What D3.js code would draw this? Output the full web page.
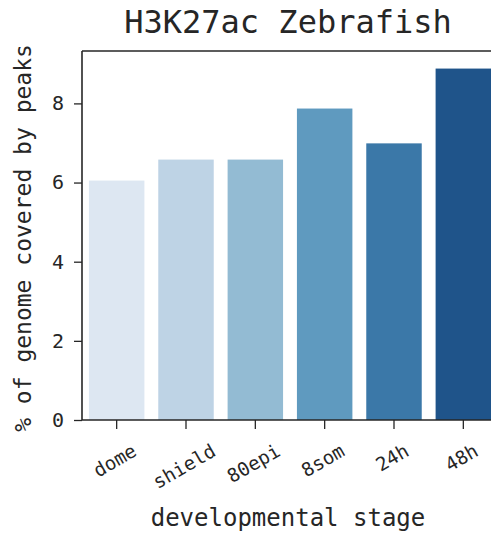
<!DOCTYPE html>
<html>
<head>
<meta charset="utf-8">
<script src="https://cdn.jsdelivr.net/npm/d3@7"></script>
<style>
  html, body { margin: 0; padding: 0; background: #fff; }
  svg { display: block; }
  text { font-family: "DejaVu Sans Mono", monospace; fill: #262626; }
</style>
</head>
<body>
<svg id="chart" width="491" height="537"></svg>
<script>
// H3K27ac peak coverage per developmental stage
const stages = ["dome", "shield", "80epi", "8som", "24h", "48h"];
const coverage = [6.05, 6.58, 6.58, 7.87, 6.99, 8.88];
const barColors = ["#dde7f2", "#bed3e5", "#93bbd3", "#5f9abf", "#3b78a8", "#1f548a"];
const yTicks = [0, 2, 4, 6, 8];

const svg = d3.select("#chart");
const plot = { left: 82, right: 498, top: 51, bottom: 420 };
const ink = "#262626";

const x = d3.scaleBand()
  .domain(stages)
  .range([plot.left, plot.right])
  .paddingInner(0.2)
  .paddingOuter(0.1);

const y = d3.scaleLinear()
  .domain([0, d3.max(coverage) * 1.05])
  .range([plot.bottom, plot.top]);

// bars
svg.append("g")
  .selectAll("rect")
  .data(stages)
  .join("rect")
  .attr("x", d => x(d))
  .attr("width", x.bandwidth())
  .attr("y", (d, i) => y(coverage[i]))
  .attr("height", (d, i) => y(0) - y(coverage[i]))
  .attr("fill", (d, i) => barColors[i]);

// y axis
const yAxis = svg.append("g")
  .attr("transform", `translate(${plot.left},0)`)
  .call(d3.axisLeft(y).tickValues(yTicks).tickSize(8).tickPadding(10).tickFormat(d3.format("d")));
yAxis.select(".domain").remove();
yAxis.selectAll(".tick line").attr("stroke", ink).attr("stroke-width", 1.3);
yAxis.selectAll(".tick text")
  .style("font-family", "'DejaVu Sans Mono', monospace")
  .style("font-size", "20px")
  .attr("fill", ink);

// x axis
const xAxis = svg.append("g")
  .attr("transform", `translate(0,${plot.bottom})`)
  .call(d3.axisBottom(x).tickSize(9).tickFormat(""));
xAxis.select(".domain").remove();
xAxis.selectAll(".tick line").attr("stroke", ink).attr("stroke-width", 1.3);

// rotated category labels, centred under each tick
const fs = 19;
const labels = svg.append("g");
stages.forEach(s => {
  const t = labels.append("text")
    .text(s)
    .style("font-size", fs + "px")
    .attr("text-anchor", "middle")
    .attr("dominant-baseline", "central");
  const w = t.node().getComputedTextLength();
  const h = fs * 0.95;
  const rotH = w * Math.sin(Math.PI / 6) + h * Math.cos(Math.PI / 6);
  const cx = x(s) + x.bandwidth() / 2 - 2;
  const cy = 441 + rotH / 2;
  t.attr("transform", `translate(${cx},${cy}) rotate(-30)`);
});

// spines: left, top, bottom
const spine = svg.append("g").attr("stroke", ink).attr("stroke-width", 1.6).attr("fill", "none");
spine.append("line").attr("x1", plot.left).attr("x2", plot.left).attr("y1", plot.top).attr("y2", plot.bottom);
spine.append("line").attr("x1", plot.left).attr("x2", plot.right).attr("y1", plot.top).attr("y2", plot.top);
spine.append("line").attr("x1", plot.left).attr("x2", plot.right).attr("y1", plot.bottom).attr("y2", plot.bottom);

// title and axis labels
svg.append("text")
  .attr("x", 288).attr("y", 33)
  .attr("text-anchor", "middle")
  .style("font-size", "32px")
  .text("H3K27ac Zebrafish");

svg.append("text")
  .attr("x", 288).attr("y", 526)
  .attr("text-anchor", "middle")
  .style("font-size", "24px")
  .text("developmental stage");

svg.append("text")
  .attr("transform", `translate(31,238) rotate(-90)`)
  .attr("text-anchor", "middle")
  .style("font-size", "23px")
  .text("% of genome covered by peaks");
</script>
</body>
</html>
